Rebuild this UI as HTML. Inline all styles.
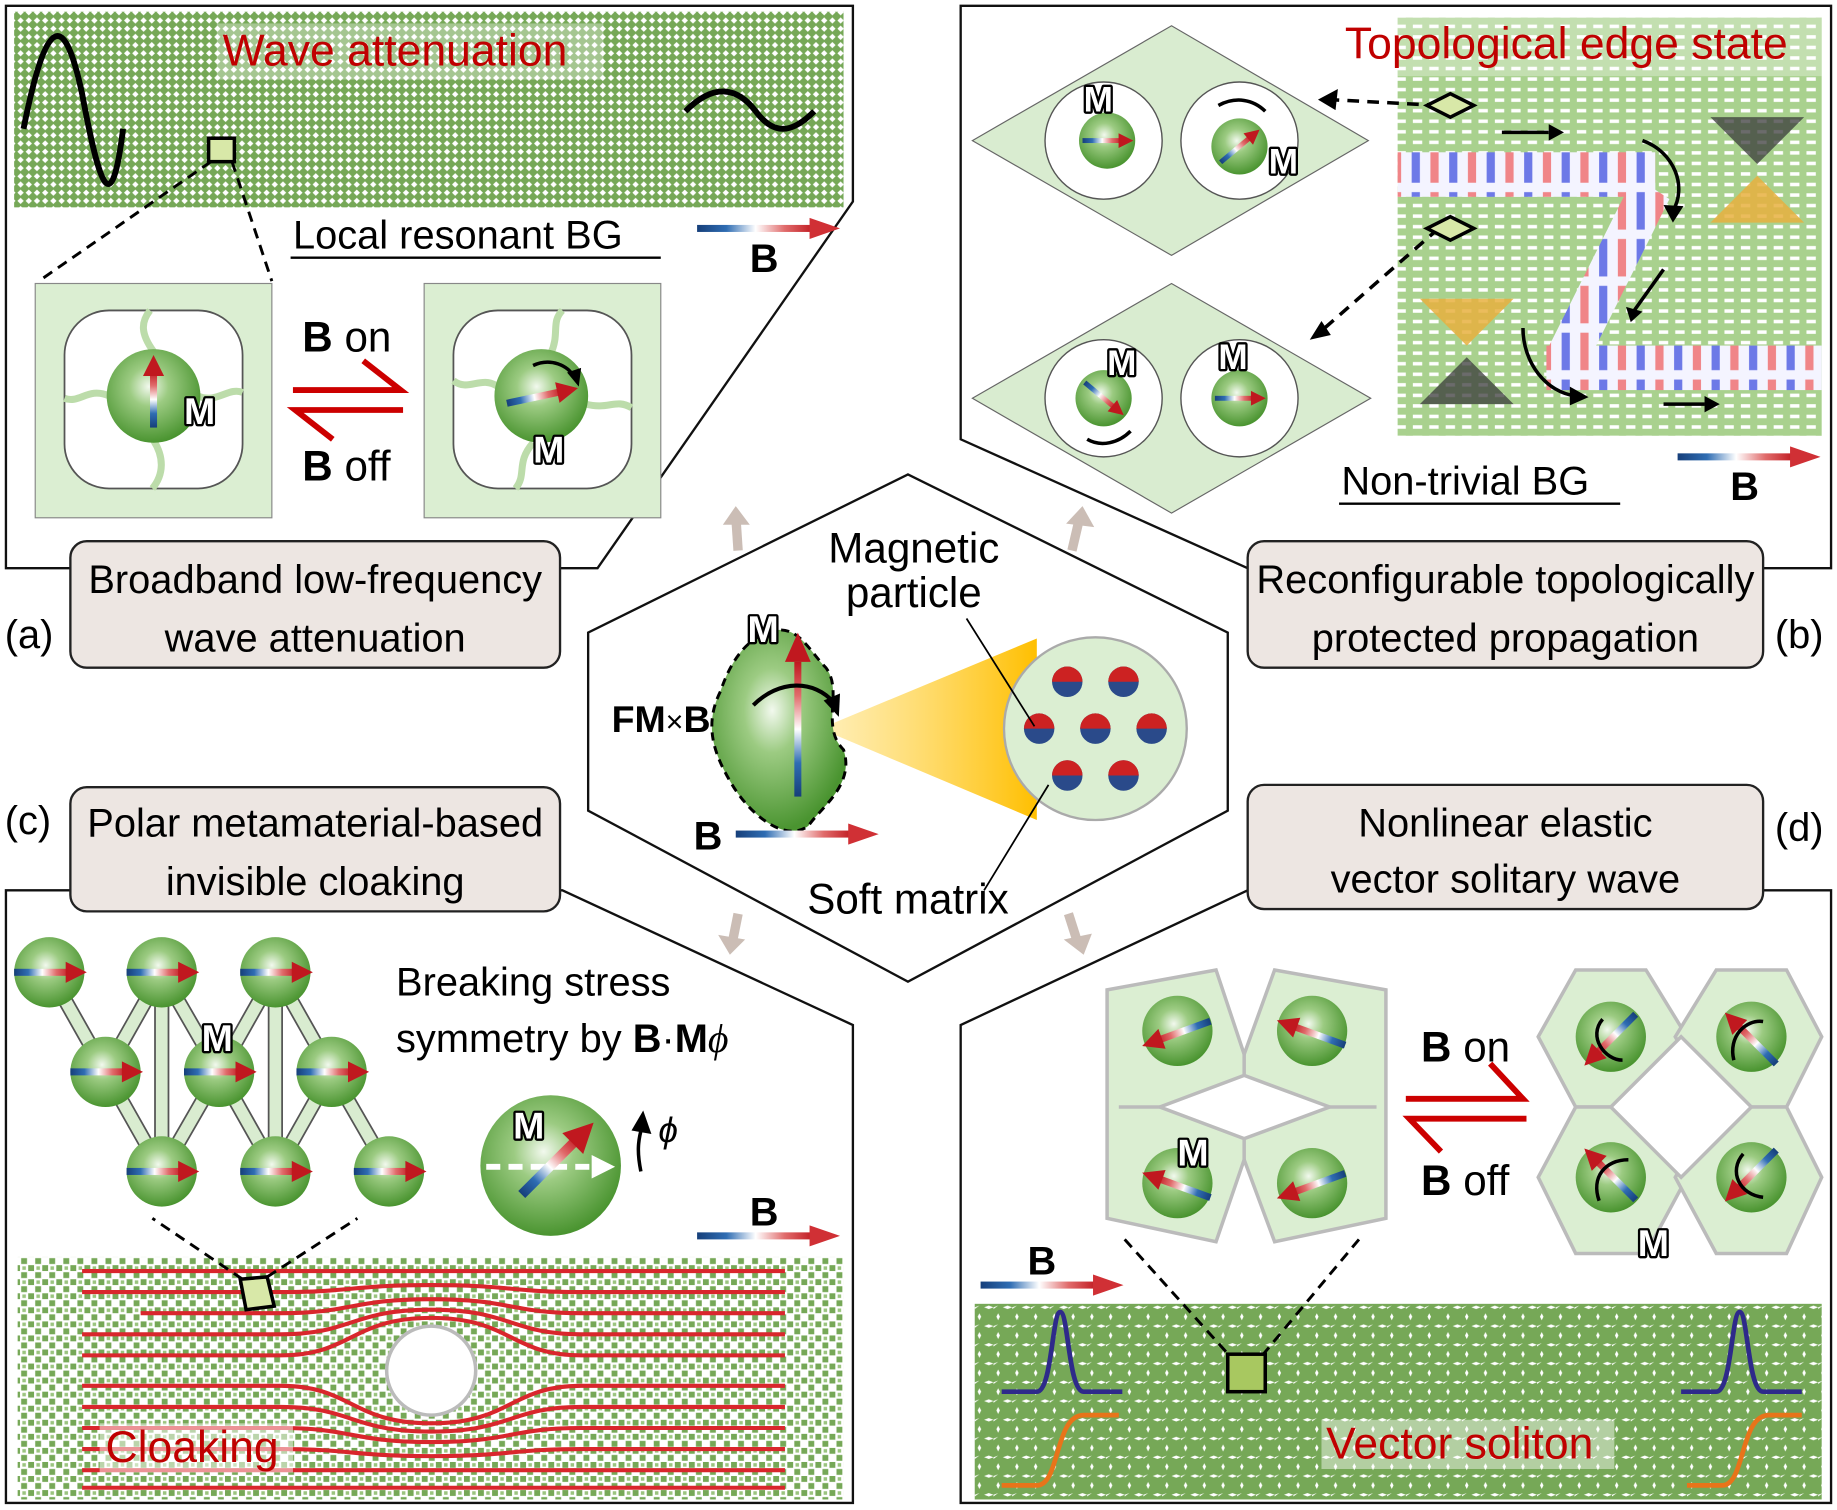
<!DOCTYPE html>
<html><head><meta charset="utf-8"><style>
html,body{margin:0;padding:0;background:#fff}
svg{display:block}
text{font-family:"Liberation Sans",sans-serif}
.m{font-weight:bold;fill:#fff;stroke:#000;stroke-width:4;paint-order:stroke;stroke-linejoin:round}
</style></head><body>
<svg width="1837" height="1510" viewBox="0 0 1568 1289" xmlns="http://www.w3.org/2000/svg">
<defs>
<pattern id="pa" width="7" height="7" patternUnits="userSpaceOnUse"><rect width="7" height="7" fill="#76a857"/><path d="M3.5,0.8 L6.2,3.5 L3.5,6.2 L0.8,3.5Z" fill="#fff"/></pattern>
<pattern id="pb" width="14" height="9" patternUnits="userSpaceOnUse"><rect width="14" height="9" fill="#a9d18e"/><rect x="2" y="3" width="8" height="3" fill="#fff"/></pattern>
<pattern id="pc" width="12" height="12" patternUnits="userSpaceOnUse"><rect width="12" height="12" fill="#fff"/><rect x="0" y="0" width="5" height="5" fill="#76a857"/><rect x="6" y="6" width="5" height="5" fill="#76a857"/><rect x="7" y="1" width="3" height="3" fill="#9bc47f"/></pattern>
<pattern id="pd" width="16" height="16" patternUnits="userSpaceOnUse"><rect width="16" height="16" fill="#76a857"/><path d="M4,1 L5.5,4 L4,7 L2.5,4Z" fill="#fff"/><path d="M8,12 L12,10.5 L16,12 L12,13.5Z M0,12 L4,10.5 L0,13.5Z" fill="#fff"/></pattern>
<radialGradient id="sph" cx="45%" cy="40%" r="60%"><stop offset="0" stop-color="#f2f9ee"/><stop offset="0.35" stop-color="#9ccb82"/><stop offset="1" stop-color="#4a9430"/></radialGradient>
<linearGradient id="mg" x1="0" x2="1"><stop offset="0" stop-color="#163f7a"/><stop offset="0.25" stop-color="#2f6db3"/><stop offset="0.5" stop-color="#fff"/><stop offset="0.75" stop-color="#e06b6b"/><stop offset="1" stop-color="#c0181f"/></linearGradient>
<linearGradient id="mgv" x1="0" x2="0" y1="1" y2="0"><stop offset="0" stop-color="#163f7a"/><stop offset="0.25" stop-color="#2f6db3"/><stop offset="0.5" stop-color="#fff"/><stop offset="0.75" stop-color="#e06b6b"/><stop offset="1" stop-color="#c0181f"/></linearGradient>
<linearGradient id="cone" x1="0" x2="1"><stop offset="0" stop-color="#ffe48a" stop-opacity="0.6"/><stop offset="1" stop-color="#ffbf00"/></linearGradient>
<g id="marr"><rect x="-30" y="-3" width="48" height="6" fill="url(#mg)"/><path d="M14,-9 L32,0 L14,9Z" fill="#c0181f"/></g>
<g id="barr"><rect x="0" y="-3" width="100" height="6" fill="url(#mg)"/><path d="M96,-9 L122,0 L96,9Z" fill="#d03035"/></g>
<g id="sp"><circle r="30" fill="url(#sph)"/></g>
<pattern id="stripe" width="32" height="40" patternUnits="userSpaceOnUse"><rect width="32" height="40" fill="#f4f4ff"/><rect x="5" y="4" width="7" height="32" fill="#ee5555" opacity="0.7"/><rect x="21" y="4" width="7" height="32" fill="#3344dd" opacity="0.7"/></pattern>
</defs>

<g fill="none" stroke="#111" stroke-width="2">
<path d="M5,5 H728 V172 L510,485 H5 Z"/>
<path d="M820,5 H1563 V485 H1065 L820,375 Z"/>
<path d="M5,760 H480 L728,875 V1283 H5 Z"/>
<path d="M1065,760 H1563 V1283 H820 V875 Z"/>
<polygon points="775,405 1048,540 1048,692 775,838 502,692 502,540"/>
</g>

<!-- Panel a -->
<rect x="12" y="10" width="708" height="167" fill="url(#pa)"/>
<rect x="185" y="20" width="330" height="48" fill="#fff" opacity="0.35"/>
<text x="190" y="56" font-size="38" fill="#c00000">Wave attenuation</text>
<path d="M20,110 C40,10 55,10 70,80 C85,160 95,190 105,110" fill="none" stroke="#000" stroke-width="5"/>
<path d="M585,95 C610,70 630,75 645,95 C660,115 675,115 695,95" fill="none" stroke="#000" stroke-width="5"/>
<rect x="178" y="118" width="22" height="20" fill="#d8e8a8" stroke="#000" stroke-width="3"/>
<path d="M180,138 L33,240 M198,138 L232,240" stroke="#000" stroke-width="2.5" stroke-dasharray="9,6" fill="none"/>
<text x="250" y="212" font-size="34">Local resonant BG</text>
<line x1="248" y1="220" x2="564" y2="220" stroke="#000" stroke-width="2"/>
<use href="#barr" x="595" y="195"/>
<text x="640" y="232" font-size="34" font-weight="bold">B</text>
<g>
<rect x="30" y="242" width="202" height="200" fill="#dbeed2" stroke="#888"/>
<rect x="55" y="265" width="152" height="152" rx="38" fill="#fff" stroke="#555" stroke-width="1.5"/>
<path d="M131,300 C120,285 120,275 128,265 M131,376 C140,390 140,405 130,417 M93,338 C75,330 68,345 55,340 M169,338 C185,345 195,330 207,335" stroke="#bcdcaa" stroke-width="6" fill="none"/>
<circle cx="131" cy="338" r="40" fill="url(#sph)"/>
<use href="#marr" transform="translate(131,335) rotate(-90)"/>
<text x="157" y="362" font-size="32" class="m">M</text>
</g>
<g>
<rect x="362" y="242" width="202" height="200" fill="#dbeed2" stroke="#888"/>
<rect x="387" y="265" width="152" height="152" rx="38" fill="#fff" stroke="#555" stroke-width="1.5"/>
<path d="M470,302 C478,285 470,275 480,265 M455,378 C440,395 450,405 440,417 M425,330 C410,320 400,335 387,325 M500,345 C520,350 525,340 539,348" stroke="#bcdcaa" stroke-width="6" fill="none"/>
<circle cx="462" cy="338" r="40" fill="url(#sph)"/>
<use href="#marr" transform="translate(462,338) rotate(-12)"/>
<path d="M455,312 C470,305 485,312 490,322" fill="none" stroke="#000" stroke-width="3"/><path d="M484,318 L494,330 L496,314Z"/>
<text x="455" y="395" font-size="32" class="m">M</text>
</g>
<text x="258" y="300" font-size="36"><tspan font-weight="bold">B</tspan> on</text>
<path d="M250,333 H342 L310,308" fill="none" stroke="#c00" stroke-width="5"/>
<path d="M344,350 H252 L284,375" fill="none" stroke="#c00" stroke-width="5"/>
<text x="258" y="410" font-size="36"><tspan font-weight="bold">B</tspan> off</text>

<g fill="#ede6e2" stroke="#222" stroke-width="2">
<rect x="60" y="462" width="418" height="108" rx="14"/>
<rect x="1065" y="462" width="440" height="108" rx="14"/>
<rect x="60" y="672" width="418" height="106" rx="14"/>
<rect x="1065" y="670" width="440" height="106" rx="14"/>
</g>
<g font-size="34" text-anchor="middle">
<text x="269" y="506">Broadband low-frequency</text>
<text x="269" y="556">wave attenuation</text>
<text x="1285" y="506">Reconfigurable topologically</text>
<text x="1285" y="556">protected propagation</text>
<text x="269" y="714">Polar metamaterial-based</text>
<text x="269" y="764">invisible cloaking</text>
<text x="1285" y="714">Nonlinear elastic</text>
<text x="1285" y="762">vector solitary wave</text>
</g>
<g font-size="34">
<text x="4" y="553">(a)</text>
<text x="1515" y="553">(b)</text>
<text x="4" y="712">(c)</text>
<text x="1515" y="718">(d)</text>
</g>

<!-- Panel b -->
<rect x="1193" y="15" width="362" height="357" fill="url(#pb)"/>
<rect x="1193" y="15" width="362" height="50" fill="#fff" opacity="0.3"/>
<text x="1148" y="50" font-size="38" fill="#c00000">Topological edge state</text>
<g fill="#d9ecd0" stroke="#666" stroke-width="1">
<polygon points="830,120 1000,22 1168,120 1000,218"/>
<polygon points="830,340 1000,242 1170,340 1000,438"/>
</g>
<g fill="#fff" stroke="#555" stroke-width="1.2">
<circle cx="942" cy="120" r="50"/><circle cx="1058" cy="120" r="50"/>
<circle cx="942" cy="340" r="50"/><circle cx="1058" cy="340" r="50"/>
</g>
<circle cx="945" cy="120" r="24" fill="url(#sph)"/><use href="#marr" transform="translate(945,120) scale(0.7)"/>
<circle cx="1058" cy="125" r="24" fill="url(#sph)"/><use href="#marr" transform="translate(1058,125) rotate(-40) scale(0.7)"/>
<circle cx="942" cy="340" r="24" fill="url(#sph)"/><use href="#marr" transform="translate(942,340) rotate(40) scale(0.7)"/>
<circle cx="1058" cy="340" r="24" fill="url(#sph)"/><use href="#marr" transform="translate(1058,340) scale(0.7)"/>
<g font-size="30">
<text x="925" y="95" class="m">M</text><text x="1083" y="148" class="m">M</text><text x="945" y="320" class="m">M</text><text x="1040" y="315" class="m">M</text>
</g>
<path d="M1040,90 C1055,82 1070,85 1080,95" fill="none" stroke="#000" stroke-width="3"/>
<path d="M928,375 C940,382 955,378 965,368" fill="none" stroke="#000" stroke-width="3"/>
<path d="M1228,90 L1135,85 M1228,195 L1125,285" stroke="#000" stroke-width="3" stroke-dasharray="10,7"/>
<path d="M1125,85 L1142,76 L1140,94Z M1118,290 L1128,274 L1136,286Z"/>
<path d="M1218,90 L1238,80 L1258,90 L1238,100Z M1218,195 L1238,185 L1258,195 L1238,205Z" fill="#d8e8a8" stroke="#000" stroke-width="3"/>
<rect x="1193" y="130" width="220" height="38" fill="url(#stripe)"/>
<polygon points="1395,150 1425,170 1350,320 1320,300" fill="url(#stripe)"/>
<rect x="1320" y="295" width="235" height="38" fill="url(#stripe)"/>
<path d="M1282,113 H1322 M1420,345 H1455" stroke="#000" stroke-width="3"/>
<path d="M1322,106 L1335,113 L1322,120Z M1455,338 L1468,345 L1455,352Z"/>
<path d="M1402,120 C1430,130 1440,160 1428,180" fill="none" stroke="#000" stroke-width="3"/><path d="M1420,175 L1428,190 L1437,176Z"/>
<path d="M1420,230 L1395,265" stroke="#000" stroke-width="3"/><path d="M1388,262 L1392,275 L1402,266Z"/>
<path d="M1300,280 C1300,310 1320,335 1345,338" fill="none" stroke="#000" stroke-width="3"/><path d="M1340,330 L1356,339 L1340,346Z"/>
<path d="M1460,100 H1540 L1500,140Z" fill="#3a3a3a" opacity="0.75"/>
<path d="M1500,150 L1540,190 H1460Z" fill="#e8b040" opacity="0.85"/>
<path d="M1212,255 H1292 L1252,295Z" fill="#e8b040" opacity="0.85"/>
<path d="M1252,305 L1292,345 H1212Z" fill="#3a3a3a" opacity="0.75"/>
<text x="1145" y="422" font-size="34">Non-trivial BG</text>
<line x1="1143" y1="430" x2="1383" y2="430" stroke="#000" stroke-width="2"/>
<use href="#barr" x="1432" y="390"/>
<text x="1477" y="427" font-size="34" font-weight="bold">B</text>

<!-- center -->
<path d="M630,470 L628,440" stroke="#cbbdb5" stroke-width="8"/><path d="M617,448 L628,432 L640,448Z" fill="#cbbdb5"/>
<path d="M915,470 L922,440" stroke="#cbbdb5" stroke-width="8"/><path d="M910,447 L924,432 L934,450Z" fill="#cbbdb5"/>
<path d="M630,780 L625,805" stroke="#cbbdb5" stroke-width="8"/><path d="M613,798 L623,815 L636,802Z" fill="#cbbdb5"/>
<path d="M912,780 L920,805" stroke="#cbbdb5" stroke-width="8"/><path d="M908,802 L925,815 L932,797Z" fill="#cbbdb5"/>
<polygon points="700,622 885,545 885,700" fill="url(#cone)"/>
<path d="M655,540 C680,530 690,555 705,570 C720,590 700,620 720,640 C730,670 700,690 690,705 C670,720 640,695 625,670 C610,645 600,620 615,590 C625,560 640,545 655,540Z" fill="url(#sph)" stroke="#000" stroke-width="2.5" stroke-dasharray="7,5"/>
<rect x="678" y="565" width="6" height="115" fill="url(#mgv)"/>
<path d="M670,565 L681,540 L692,565Z" fill="#c0181f"/>
<path d="M643,602 C665,580 695,580 712,600" fill="none" stroke="#000" stroke-width="3.5"/><path d="M703,598 L716,612 L717,592Z"/>
<text x="638" y="548" font-size="32" class="m">M</text>
<text x="522" y="625" font-size="32" font-weight="bold">FM<tspan font-weight="normal" font-size="26">×</tspan>B</text>
<circle cx="935" cy="622" r="78" fill="#dbeed2" stroke="#aaa" stroke-width="2"/>
<g>
<circle cx="911" cy="582" r="13" fill="#2a4a8a"/><path d="M898,582 A13,13 0 0 1 924,582Z" fill="#cc2222"/>
<circle cx="959" cy="582" r="13" fill="#2a4a8a"/><path d="M946,582 A13,13 0 0 1 972,582Z" fill="#cc2222"/>
<circle cx="887" cy="622" r="13" fill="#2a4a8a"/><path d="M874,622 A13,13 0 0 1 900,622Z" fill="#cc2222"/>
<circle cx="935" cy="622" r="13" fill="#2a4a8a"/><path d="M922,622 A13,13 0 0 1 948,622Z" fill="#cc2222"/>
<circle cx="983" cy="622" r="13" fill="#2a4a8a"/><path d="M970,622 A13,13 0 0 1 996,622Z" fill="#cc2222"/>
<circle cx="911" cy="662" r="13" fill="#2a4a8a"/><path d="M898,662 A13,13 0 0 1 924,662Z" fill="#cc2222"/>
<circle cx="959" cy="662" r="13" fill="#2a4a8a"/><path d="M946,662 A13,13 0 0 1 972,662Z" fill="#cc2222"/>
</g>
<path d="M825,528 L883,620 M895,670 L840,760" stroke="#000" stroke-width="1.5"/>
<text x="780" y="480" font-size="36" text-anchor="middle">Magnetic</text>
<text x="780" y="518" font-size="36" text-anchor="middle">particle</text>
<text x="775" y="780" font-size="36" text-anchor="middle">Soft matrix</text>
<text x="592" y="725" font-size="34" font-weight="bold">B</text>
<use href="#barr" x="628" y="712"/>

<!-- Panel c -->
<g fill="none">
<path stroke="#555" stroke-width="13" d="M42,830 L90,915 L138,830 L187,915 L235,830 L283,915 M90,915 L138,1000 L187,915 L235,1000 L283,915 L332,1000 M138,830 L138,1000 M235,830 L235,1000"/>
<path stroke="#d9ecd0" stroke-width="10" d="M42,830 L90,915 L138,830 L187,915 L235,830 L283,915 M90,915 L138,1000 L187,915 L235,1000 L283,915 L332,1000 M138,830 L138,1000 M235,830 L235,1000"/>
</g>
<use href="#sp" x="42" y="830"/><use href="#sp" x="138" y="830"/><use href="#sp" x="235" y="830"/>
<use href="#sp" x="90" y="915"/><use href="#sp" x="187" y="915"/><use href="#sp" x="283" y="915"/>
<use href="#sp" x="138" y="1000"/><use href="#sp" x="235" y="1000"/><use href="#sp" x="332" y="1000"/>
<use href="#marr" x="42" y="830"/><use href="#marr" x="138" y="830"/><use href="#marr" x="235" y="830"/>
<use href="#marr" x="90" y="915"/><use href="#marr" x="187" y="915"/><use href="#marr" x="283" y="915"/>
<use href="#marr" x="138" y="1000"/><use href="#marr" x="235" y="1000"/><use href="#marr" x="332" y="1000"/>
<text x="172" y="897" font-size="32" class="m">M</text>
<text x="338" y="850" font-size="34">Breaking stress</text>
<text x="338" y="898" font-size="34">symmetry by <tspan font-weight="bold">B</tspan>·<tspan font-weight="bold">M</tspan><tspan font-style="italic" font-family="Liberation Serif">ϕ</tspan></text>
<circle cx="470" cy="995" r="60" fill="url(#sph)"/>
<path d="M415,996 H505" stroke="#fff" stroke-width="5" stroke-dasharray="12,7"/><path d="M505,986 L525,996 L505,1006Z" fill="#fff"/>
<use href="#marr" transform="translate(475,990) rotate(-45) scale(1.4)"/>
<text x="438" y="972" font-size="32" class="m">M</text>
<path d="M547,1000 C544,985 544,975 548,962" fill="none" stroke="#000" stroke-width="3"/><path d="M539,965 L549,948 L556,968Z"/>
<text x="562" y="975" font-size="30" font-style="italic" font-family="Liberation Serif">ϕ</text>
<use href="#barr" x="595" y="1055"/>
<text x="640" y="1046" font-size="34" font-weight="bold">B</text>
<rect x="15" y="1073" width="705" height="207" fill="url(#pc)"/>
<g fill="none" stroke="#d9262c" stroke-width="3.5">
<path d="M70,1085 H670"/>
<path d="M70,1103 H240 C300,1103 300,1097 368,1097 S436,1103 496,1103 H670"/>
<path d="M120,1121 H240 C300,1121 300,1109 368,1109 S436,1121 496,1121 H670"/>
<path d="M70,1139 H240 C300,1139 300,1118 368,1118 S436,1139 496,1139 H670"/>
<path d="M70,1157 H240 C300,1157 300,1125 368,1125 S436,1157 496,1157 H670"/>
<path d="M70,1183 H240 C300,1183 300,1215 368,1215 S436,1183 496,1183 H670"/>
<path d="M70,1201 H240 C300,1201 300,1222 368,1222 S436,1201 496,1201 H670"/>
<path d="M70,1219 H240 C300,1219 300,1231 368,1231 S436,1219 496,1219 H670"/>
<path d="M70,1237 H240 C300,1237 300,1243 368,1243 S436,1237 496,1237 H670"/>
<path d="M70,1255 H670"/>
<path d="M70,1270 H670"/>
</g>
<circle cx="368" cy="1170" r="38" fill="#fff" stroke="#bbb" stroke-width="3"/>
<path d="M205,1092 L228,1090 L234,1115 L210,1118Z" fill="#d8e8a8" stroke="#000" stroke-width="3"/>
<path d="M207,1092 L130,1040 M228,1090 L305,1040" stroke="#000" stroke-width="2.5" stroke-dasharray="9,6"/>
<rect x="85" y="1215" width="165" height="42" fill="#fff" opacity="0.5"/>
<text x="90" y="1248" font-size="38" fill="#c00000">Cloaking</text>

<!-- Panel d -->
<rect x="832" y="1113" width="723" height="167" fill="url(#pd)"/>
<path d="M945,845 L1038,828 L1062,900 L1088,828 L1183,845 L1183,1040 L1088,1060 L1062,990 L1038,1060 L945,1040 Z" fill="#dbeed2" stroke="#bbb" stroke-width="3"/>
<path d="M990,945 L1062,918 L1135,945 L1062,972Z" fill="#fff" stroke="#bbb" stroke-width="3"/>
<path d="M1062,900 L1062,918 M1062,972 L1062,990 M955,945 L990,945 M1135,945 L1175,945" stroke="#bbb" stroke-width="3"/>
<use href="#sp" x="1005" y="880"/><use href="#sp" x="1120" y="880"/><use href="#sp" x="1005" y="1010"/><use href="#sp" x="1120" y="1010"/>
<use href="#marr" transform="translate(1005,882) rotate(160)"/>
<use href="#marr" transform="translate(1120,882) rotate(200)"/>
<use href="#marr" transform="translate(1005,1012) rotate(200)"/>
<use href="#marr" transform="translate(1120,1012) rotate(160)"/>
<text x="1005" y="995" font-size="32" class="m">M</text>
<g fill="#dbeed2" stroke="#bbb" stroke-width="3">
<polygon points="1313,885 1345,828 1405,828 1440,885 1405,945 1345,945"/>
<polygon points="1430,885 1465,828 1525,828 1555,885 1525,945 1465,945"/>
<polygon points="1313,1005 1345,945 1405,945 1440,1005 1405,1070 1345,1070"/>
<polygon points="1430,1005 1465,945 1525,945 1555,1005 1525,1070 1465,1070"/>
</g>
<path d="M1435,885 L1495,945 L1435,1005 L1375,945Z" fill="#fff" stroke="#bbb" stroke-width="3"/>
<use href="#sp" x="1375" y="885"/><use href="#sp" x="1495" y="885"/><use href="#sp" x="1375" y="1005"/><use href="#sp" x="1495" y="1005"/>
<use href="#marr" transform="translate(1375,887) rotate(135)"/>
<use href="#marr" transform="translate(1495,887) rotate(225)"/>
<use href="#marr" transform="translate(1375,1003) rotate(225)"/>
<use href="#marr" transform="translate(1495,1003) rotate(135)"/>
<g fill="none" stroke="#000" stroke-width="3">
<path d="M1368,870 C1355,885 1370,905 1385,905"/><path d="M1480,905 C1475,885 1490,870 1505,872"/>
<path d="M1365,1025 C1358,1005 1370,990 1390,990"/><path d="M1488,985 C1475,1000 1485,1020 1505,1022"/>
</g>
<text x="1398" y="1072" font-size="32" class="m">M</text>
<text x="1213" y="906" font-size="36"><tspan font-weight="bold">B</tspan> on</text>
<path d="M1200,938 H1300 L1272,908" fill="none" stroke="#c00" stroke-width="5"/>
<path d="M1303,955 H1203 L1230,983" fill="none" stroke="#c00" stroke-width="5"/>
<text x="1213" y="1020" font-size="36"><tspan font-weight="bold">B</tspan> off</text>
<text x="877" y="1088" font-size="34" font-weight="bold">B</text>
<use href="#barr" x="837" y="1097"/>
<path d="M960,1058 L1052,1160 M1160,1058 L1075,1160" stroke="#000" stroke-width="2.5" stroke-dasharray="9,6"/>
<rect x="1048" y="1156" width="32" height="32" fill="#a8c860" stroke="#000" stroke-width="3"/>
<g fill="none" stroke-width="4">
<path d="M855,1188 H885 C898,1188 898,1120 905,1120 C912,1120 912,1188 925,1188 H958" stroke="#2e2a8a"/>
<path d="M855,1268 H885 C905,1268 900,1208 925,1208 H955" stroke="#e8741a"/>
<path d="M1435,1188 H1465 C1478,1188 1478,1120 1485,1120 C1492,1120 1492,1188 1505,1188 H1538" stroke="#2e2a8a"/>
<path d="M1440,1268 H1470 C1490,1268 1485,1208 1510,1208 H1538" stroke="#e8741a"/>
</g>
<rect x="1128" y="1212" width="250" height="42" fill="#fff" opacity="0.45"/>
<text x="1132" y="1245" font-size="38" fill="#c00000">Vector soliton</text>
</svg>
</body></html>
